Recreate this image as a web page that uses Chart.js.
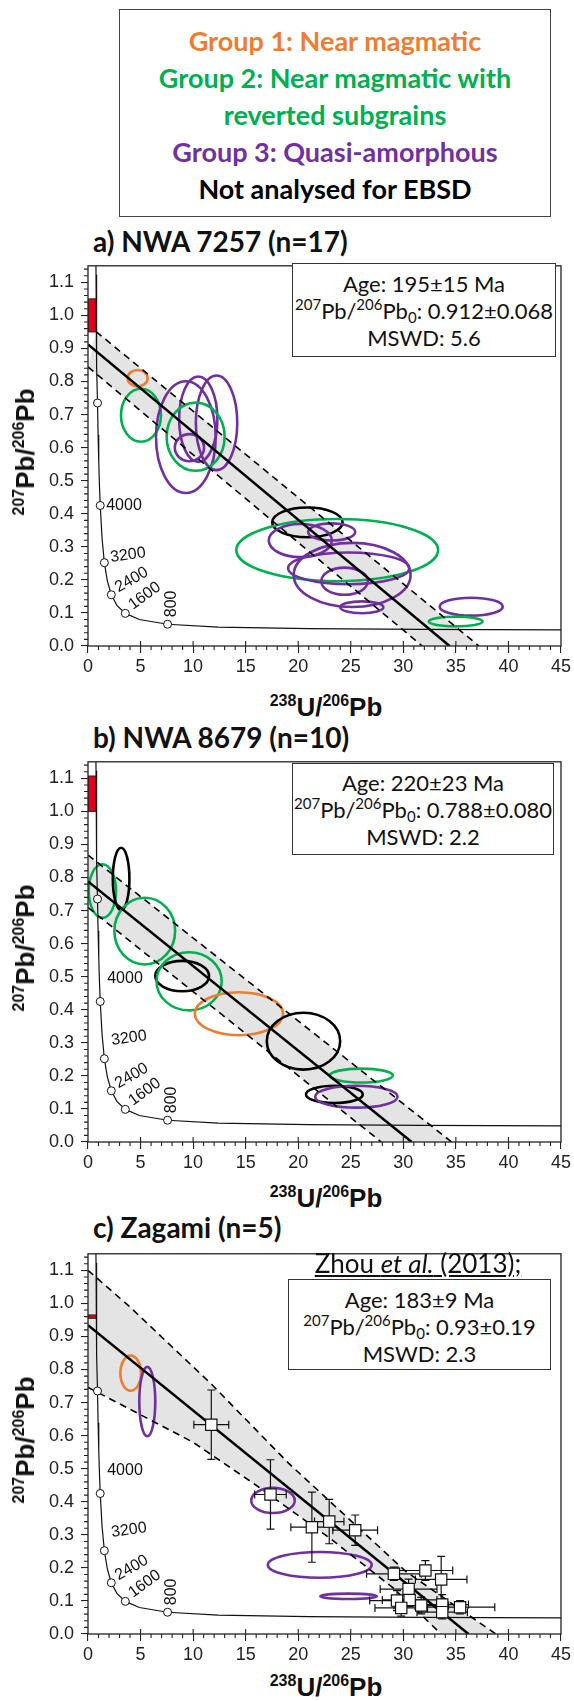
<!DOCTYPE html>
<html>
<head>
<meta charset="utf-8">
<script src="https://cdn.jsdelivr.net/npm/chart.js@4.4.1/dist/chart.umd.min.js"></script>
<style>
  body { margin: 0; background: #fff; }
  #page { position: relative; width: 574px; height: 1701px; overflow: hidden; }
  .legend { position: absolute; left: 119px; top: 9px; width: 432px; height: 208px; box-sizing: border-box;
    border: 1.5px solid #444; padding-top: 12px; text-align: center; font: bold 27px Lato, sans-serif; line-height: 37px; }
  .panel { position: absolute; left: 0; width: 574px; height: 432px; }
  .ptitle { position: absolute; left: 93px; font: bold 28px Lato, sans-serif; line-height: 32px; white-space: nowrap; color: #111; }
  .info { position: absolute; box-sizing: border-box; border: 1.5px solid #333; background: #fff; text-align: center;
    font: 22px Lato, sans-serif; line-height: 27px; color: #111; }
  .ref { position: absolute; font: 26px Lato, sans-serif; text-decoration: underline; white-space: nowrap; color: #111;
    transform: translateX(-50%); line-height: 30px; }
  .xtitle, .ytitle { position: absolute; font: bold 26px "Liberation Sans", Arial, sans-serif; white-space: nowrap;
    line-height: 30px; color: #111; }
  .xtitle { left: 326px; transform: translateX(-50%); }
  .ytitle { left: 25px; transform: translate(-50%, -50%) rotate(-90deg); }
  sup { font-size: 16px; vertical-align: 10px; line-height: 0; }
  .info sup { font-size: 15px; vertical-align: 9px; }
  sub { font-size: 15px; vertical-align: -4px; line-height: 0; }
</style>
</head>
<body>
<div id="page">
  <div class="legend">
    <div style="color:#ED7D31">Group 1: Near magmatic</div>
    <div style="color:#00B050">Group 2: Near magmatic with<br>reverted subgrains</div>
    <div style="color:#7030A0">Group 3: Quasi-amorphous</div>
    <div style="color:#000">Not analysed for EBSD</div>
  </div>

  <div class="ptitle" style="top:225px">a) NWA 7257 (n=17)</div>
  <div class="panel" style="top:248px"><canvas id="chartA" width="574" height="432"></canvas></div>
  <div class="info" style="left:292px;top:263px;width:264px;height:94px;padding-top:6px">
    Age: 195±15 Ma<br><sup>207</sup>Pb/<sup>206</sup>Pb<sub>0</sub>: 0.912±0.068<br>MSWD: 5.6
  </div>
  <div class="xtitle" style="top:692px"><sup>238</sup>U/<sup>206</sup>Pb</div>
  <div class="ytitle" style="top:452px"><sup>207</sup>Pb/<sup>206</sup>Pb</div>

  <div class="ptitle" style="top:721px">b) NWA 8679 (n=10)</div>
  <div class="panel" style="top:744px"><canvas id="chartB" width="574" height="432"></canvas></div>
  <div class="info" style="left:292px;top:763px;width:262px;height:92px;padding-top:5px">
    Age: 220±23 Ma<br><sup>207</sup>Pb/<sup>206</sup>Pb<sub>0</sub>: 0.788±0.080<br>MSWD: 2.2
  </div>
  <div class="xtitle" style="top:1183px"><sup>238</sup>U/<sup>206</sup>Pb</div>
  <div class="ytitle" style="top:948px"><sup>207</sup>Pb/<sup>206</sup>Pb</div>

  <div class="ptitle" style="top:1211px">c) Zagami (n=5)</div>
  <div class="panel" style="top:1236px"><canvas id="chartC" width="574" height="432"></canvas></div>
  <div class="ref" style="left:418px;top:1248px">Zhou <i>et al.</i> (2013);</div>
  <div class="info" style="left:288px;top:1279px;width:263px;height:91px;padding-top:6px">
    Age: 183±9 Ma<br><sup>207</sup>Pb/<sup>206</sup>Pb<sub>0</sub>: 0.93±0.19<br>MSWD: 2.3
  </div>
  <div class="xtitle" style="top:1672px"><sup>238</sup>U/<sup>206</sup>Pb</div>
  <div class="ytitle" style="top:1440px"><sup>207</sup>Pb/<sup>206</sup>Pb</div>
</div>

<script>
// axis ticks
const xTicks = [0, 5, 10, 15, 20, 25, 30, 35, 40, 45];
const yTicks = [0, 0.1, 0.2, 0.3, 0.4, 0.5, 0.6, 0.7, 0.8, 0.9, 1.0, 1.1];

// Tera-Wasserburg concordia (238U/206Pb, 207Pb/206Pb)
const concordiaU = [0.752, 0.763, 0.784, 0.853, 0.905, 0.960, 1.022, 1.089, 1.163, 1.337, 1.556, 1.838,
  2.217, 2.749, 3.550, 4.888, 7.570, 12.39, 20.99, 31.73, 49.09];
const concordiaPb = [1.164, 1.123, 1.046, 0.845, 0.735, 0.639, 0.557, 0.486, 0.425, 0.326, 0.252, 0.197,
  0.155, 0.123, 0.0987, 0.0801, 0.0658, 0.0572, 0.0523, 0.0501, 0.0486];

// concordia age markers (Ma)
const ageMa = [4800, 4000, 3200, 2400, 1600, 800];
const ageU = [0.905, 1.163, 1.556, 2.217, 3.550, 7.570];
const agePb = [0.735, 0.425, 0.252, 0.155, 0.0987, 0.0658];

// ellipses: [group, 238U/206Pb, 207Pb/206Pb, half-width, half-height]; group 0 = not analysed
const ellipsesA = [
  [1, 4.72, 0.810, 0.95, 0.025], [2, 5.04, 0.698, 1.90, 0.080], [3, 9.31, 0.632, 2.84, 0.169],
  [3, 10.49, 0.686, 1.82, 0.129], [3, 12.23, 0.675, 1.97, 0.143], [3, 9.65, 0.600, 1.39, 0.041],
  [2, 10.24, 0.633, 2.76, 0.103], [0, 20.87, 0.374, 3.35, 0.045], [2, 23.71, 0.290, 9.60, 0.094],
  [3, 20.20, 0.319, 3.00, 0.050], [3, 23.18, 0.345, 2.24, 0.026], [3, 25.13, 0.215, 5.56, 0.097],
  [3, 24.80, 0.235, 5.76, 0.048], [3, 24.41, 0.196, 2.21, 0.041], [3, 26.05, 0.117, 2.05, 0.018],
  [3, 36.46, 0.119, 3.00, 0.027], [2, 34.98, 0.074, 2.56, 0.0145]
];
const ellipsesB = [
  [2, 1.37, 0.759, 1.30, 0.081], [0, 3.15, 0.796, 0.79, 0.094], [2, 5.40, 0.638, 2.89, 0.101],
  [0, 8.96, 0.502, 2.56, 0.046], [2, 9.62, 0.486, 3.10, 0.088], [1, 14.36, 0.388, 4.20, 0.065],
  [0, 20.50, 0.305, 3.49, 0.086], [2, 26.00, 0.201, 3.00, 0.021], [0, 23.44, 0.144, 2.70, 0.026],
  [3, 25.53, 0.137, 3.92, 0.033]
];
const ellipsesC = [
  [1, 4.06, 0.789, 0.98, 0.053], [3, 5.64, 0.703, 0.76, 0.105], [3, 17.60, 0.404, 2.07, 0.038],
  [3, 22.05, 0.209, 4.94, 0.039], [3, 24.79, 0.114, 2.69, 0.008]
];

// regression line and its envelope, [238U/206Pb, 207Pb/206Pb]
const fitA = [[0, 0.912], [34.4, 0]];
const upperA = [[0.77, 0.951], [37.2, 0]];
const lowerA = [[0, 0.844], [31.8, 0]];
const fitB = [[0, 0.788], [30.8, 0]];
const upperB = [[0, 0.868], [34.6, 0]];
const lowerB = [[0, 0.709], [27.9, 0]];
const fitC = [[0, 0.934], [36.2, 0]];
const upperC = [[0, 1.10], [3.93, 0.991], [11.8, 0.754], [19.1, 0.516], [30.2, 0.19], [38.8, 0]];
const lowerC = [[0, 0.746], [10, 0.58], [16, 0.45], [23, 0.29], [29, 0.14], [33.6, 0]];

// common Pb composition range (207Pb/206Pb)
const commonA = [0.95, 1.05];
const commonB = [1.0, 1.107];
const commonC = [0.955, 0.965];

// Zhou et al. (2013) Zagami analyses with 2 sigma errors
const zhouU = [11.73, 17.36, 21.3, 22.95, 25.42, 29.1, 32.1, 33.6, 30.5, 29.4, 30.6, 31.7, 33.7, 35.4, 29.8, 33.7];
const zhouPb = [0.633, 0.422, 0.323, 0.340, 0.314, 0.182, 0.192, 0.165, 0.136, 0.101, 0.103, 0.086, 0.089, 0.081, 0.079, 0.066];
const zhouUErr = [1.66, 1.5, 2.0, 1.4, 2.13, 2.6, 2.6, 2.45, 2.7, 2.6, 2.6, 2.6, 2.5, 3.3, 2.5, 2.4];
const zhouPbErr = [0.105, 0.105, 0.106, 0.067, 0.046, 0.02, 0.03, 0.07, 0.03, 0.03, 0.02, 0.025, 0.03, 0.02, 0.025, 0.02];

const groupColors = ['#000000', '#ED7D31', '#00B050', '#7030A0'];
const tickFont = { family: '"Liberation Sans", Arial, sans-serif', size: 18 };

const toPoints = (xs, ys) => xs.map((v, i) => ({ x: v, y: ys[i] }));
const pairs = arr => arr.map(([x, y]) => ({ x, y }));

// age label placement [dx, dy, angle in degrees], keyed by age
const labelsLow = { 4000: [6, 0, 0], 3200: [6, -5, -8], 2400: [5, -6, -30], 1600: [5, -7, -36], 800: [4, -7, -90] };
const labelsHigh = { 4000: [7, -23, 0], 3200: [7, -18, -8], 2400: [5, -6, -30], 1600: [5, -7, -36], 800: [4, -7, -90] };

function makePanel(id, p) {
  const art = {
    id: 'panelArt',
    beforeDatasetsDraw(chart) {
      const { ctx, chartArea: a, scales: { x, y } } = chart;
      const px = v => x.getPixelForValue(v), py = v => y.getPixelForValue(v);
      ctx.save();
      ctx.beginPath();
      ctx.rect(a.left, a.top, a.width, a.height);
      ctx.clip();

      // grey envelope between dashed lines
      ctx.beginPath();
      p.upper.forEach(([u, v], i) => i ? ctx.lineTo(px(u), py(v)) : ctx.moveTo(px(u), py(v)));
      [...p.lower].reverse().forEach(([u, v]) => ctx.lineTo(px(u), py(v)));
      ctx.closePath();
      ctx.fillStyle = '#e4e4e4';
      ctx.fill();

      // common Pb bar on the y axis
      const x0 = px(0), x1 = px(0.8);
      ctx.fillStyle = '#e3001b';
      ctx.fillRect(x0, py(p.common[1]), x1 - x0, py(p.common[0]) - py(p.common[1]));
      ctx.strokeStyle = '#222';
      ctx.lineWidth = 1;
      ctx.strokeRect(x0, py(p.common[1]), x1 - x0, py(p.common[0]) - py(p.common[1]));

      // error ellipses
      ctx.lineWidth = 2.6;
      p.ellipses.forEach(([g, cu, cp, ru, rp]) => {
        ctx.beginPath();
        ctx.ellipse(px(cu), py(cp), px(cu + ru) - px(cu), py(cp) - py(cp + rp), 0, 0, 2 * Math.PI);
        ctx.strokeStyle = groupColors[g];
        ctx.stroke();
      });

      // error bars of reference data
      if (p.zhou) {
        ctx.strokeStyle = '#111';
        ctx.lineWidth = 1.2;
        zhouU.forEach((u, i) => {
          const cx = px(u), cy = py(zhouPb[i]);
          const l = px(u - zhouUErr[i]), r = px(u + zhouUErr[i]);
          const t = py(zhouPb[i] + zhouPbErr[i]), b = py(zhouPb[i] - zhouPbErr[i]);
          ctx.beginPath();
          ctx.moveTo(l, cy); ctx.lineTo(r, cy);
          ctx.moveTo(l, cy - 4); ctx.lineTo(l, cy + 4);
          ctx.moveTo(r, cy - 4); ctx.lineTo(r, cy + 4);
          ctx.moveTo(cx, t); ctx.lineTo(cx, b);
          ctx.moveTo(cx - 4, t); ctx.lineTo(cx + 4, t);
          ctx.moveTo(cx - 4, b); ctx.lineTo(cx + 4, b);
          ctx.stroke();
        });
      }
      ctx.restore();
    },
    afterDraw(chart) {
      const { ctx, chartArea: a, scales: { x, y } } = chart;
      ctx.save();
      // frame
      ctx.strokeStyle = '#222';
      ctx.lineWidth = 1.3;
      ctx.strokeRect(a.left, a.top, a.width, a.height);

      // minor ticks and inner halves of x major ticks
      ctx.lineWidth = 1.1;
      ctx.beginPath();
      for (let k = 1; k < 45; k++) {
        const xx = x.getPixelForValue(k);
        if (k % 5) { ctx.moveTo(xx, a.bottom); ctx.lineTo(xx, a.bottom + 4); }
        else { ctx.moveTo(xx, a.bottom - 5); ctx.lineTo(xx, a.bottom); }
      }
      for (let k = 1; k < 58; k++) {
        if (k % 5 === 0) continue;
        const yy = y.getPixelForValue(k * 0.02);
        ctx.moveTo(a.left - 4, yy); ctx.lineTo(a.left, yy);
      }
      ctx.stroke();

      // concordia age labels
      ctx.fillStyle = '#111';
      ctx.font = '16px "Liberation Sans", Arial, sans-serif';
      ctx.textAlign = 'left';
      ctx.textBaseline = 'middle';
      ageMa.forEach((age, i) => {
        const spec = p.labels[age];
        if (!spec) return;
        ctx.save();
        ctx.translate(x.getPixelForValue(ageU[i]) + spec[0], y.getPixelForValue(agePb[i]) + spec[1]);
        ctx.rotate(spec[2] * Math.PI / 180);
        ctx.fillText(String(age), 0, 0);
        ctx.restore();
      });
      ctx.restore();
    }
  };

  const datasets = [
    { data: toPoints(ageU, agePb), pointRadius: 4, pointBackgroundColor: '#fff', pointBorderColor: '#111',
      pointBorderWidth: 1, order: 0 },
    { data: toPoints(concordiaU, concordiaPb), showLine: true, borderColor: '#111', borderWidth: 1.2,
      pointRadius: 0, order: 3 },
    { data: pairs(p.fit), showLine: true, borderColor: '#000', borderWidth: 2.5, pointRadius: 0, order: 2 },
    { data: pairs(p.upper), showLine: true, borderColor: '#000', borderWidth: 1.6, borderDash: [7, 5],
      pointRadius: 0, order: 2 },
    { data: pairs(p.lower), showLine: true, borderColor: '#000', borderWidth: 1.6, borderDash: [7, 5],
      pointRadius: 0, order: 2 }
  ];
  if (p.zhou) {
    datasets.push({ data: toPoints(zhouU, zhouPb), pointStyle: 'rect', pointRadius: 8,
      pointBackgroundColor: '#fff', pointBorderColor: '#111', pointBorderWidth: 1.2, order: 1 });
  }

  return new Chart(document.getElementById(id), {
    type: 'scatter',
    data: { datasets },
    options: {
      responsive: false,
      animation: false,
      devicePixelRatio: 1,
      layout: { padding: { top: 10, right: 11, bottom: 0, left: 0 } },
      plugins: { legend: { display: false }, tooltip: { enabled: false } },
      scales: {
        x: {
          type: 'linear', min: 0, max: 45,
          afterBuildTicks: s => { s.ticks = xTicks.map(v => ({ value: v })); },
          afterFit: s => { s.height = 34; },
          ticks: { font: tickFont, color: '#222', padding: 3, maxRotation: 0 },
          grid: { drawOnChartArea: false, tickLength: 7, color: '#222', lineWidth: 1.1 },
          border: { display: false }
        },
        y: {
          type: 'linear', min: 0, max: 1.15,
          afterBuildTicks: s => { s.ticks = yTicks.map(v => ({ value: v })); },
          afterFit: s => { s.width = 88; },
          ticks: { font: tickFont, color: '#222', padding: 7, callback: v => Number(v).toFixed(1) },
          grid: { drawOnChartArea: false, tickLength: 7, color: '#222', lineWidth: 1.1 },
          border: { display: false }
        }
      }
    },
    plugins: [art]
  });
}

makePanel('chartA', { ellipses: ellipsesA, fit: fitA, upper: upperA, lower: lowerA, common: commonA, labels: labelsLow });
makePanel('chartB', { ellipses: ellipsesB, fit: fitB, upper: upperB, lower: lowerB, common: commonB, labels: labelsHigh });
makePanel('chartC', { ellipses: ellipsesC, fit: fitC, upper: upperC, lower: lowerC, common: commonC, labels: labelsHigh, zhou: true });
</script>
</body>
</html>
